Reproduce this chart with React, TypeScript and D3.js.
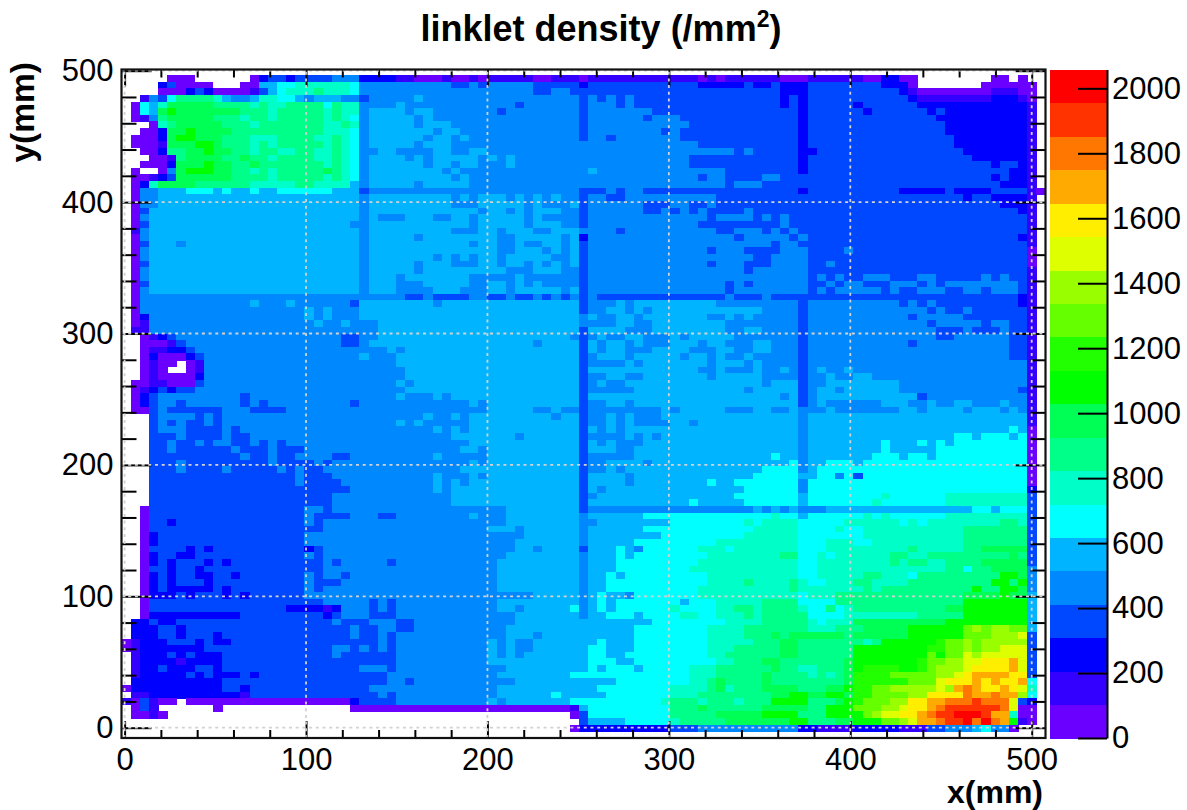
import * as d3 from 'd3';
import { useEffect, useRef } from 'react';

const WIDTH = 1187;
const HEIGHT = 810;
const FRAME = { LEFT: 121.5, RIGHT: 1045.5, TOP: 69.5, BOTTOM: 738 };
const FONT = '"Liberation Sans", Arial, sans-serif';

const Z_MAX = 2058;
const Z_TICKS = d3.range(0, 2001, 200);
const X_MAJOR = [0, 100, 200, 300, 400, 500];
const Y_MAJOR = [0, 100, 200, 300, 400, 500];
const MINOR = d3.range(0, 501, 20).filter((d) => d % 100 !== 0);

// bottom band first
const BAND_COLORS = [
  '#6a00ff', '#3300ff', '#0000ff', '#0048ff', '#0088ff',
  '#00b4ff', '#00ffff', '#00ffc8', '#00ff88', '#00ff55',
  '#00ff00', '#22ff00', '#66ff00', '#99ff00', '#ddff00',
  '#ffee00', '#ffaa00', '#ff7700', '#ff3300', '#ff0000',
];

// density, top row first, one character per 5 mm bin:
// band index in base 36 (0 = 0-100 /mm2 ... j = top band), '.' = no entries.
// columns are grouped by ten
const DENSITY_ROWS = [
  '',
  '.....000.. ....023323 3334442222 1100010010 1111100111 0111111111 1110101111 1100011111 1002200... .....00.0.',
  '....230000 ...0055667 7777764444 4444443343 4444433333 2333333333 3332222232 2322233333 3332220... ....000000',
  '....000232 0000135677 7877764444 4444444444 4444433443 3333333333 3333333333 3322233333 3333321000 0000011100',
  '..14368888 7544577665 4555443444 4454444444 4444444444 3434343333 3333333333 3323233333 3333332111 1111122210',
  '.065799999 8888787788 8868774444 5444444444 4443444444 3444343333 3333333333 3323233333 2333333222 2222222221',
  '.0659a9999 9998887888 8878774555 5455444444 4344444444 3444444433 3333333333 3333233333 3233333323 2222222221',
  '.014899999 8887887888 8878764555 5545444444 4444444444 3444444344 4333333333 3333233333 3333333332 2222222221',
  '...0789999 9888788888 8877874555 5545554444 4444444444 3444444444 4433333333 3333233333 3333333333 2222222221',
  '..00299a99 9988888888 8877764555 5555455444 4444444444 3444444443 4333333333 3333233333 3333333333 2222222221',
  '.00029aa99 9888777888 8778764555 5554554544 4444444444 3443444444 4333333333 3333233333 3333333333 3222222221',
  '.0001999aa 9888787888 8878764555 5545554444 4444444444 4444444444 4443333333 3333233333 3333333333 3222222221',
  '..0028899a 9988788778 8778764455 4444554455 4444444444 4444444444 4444444343 3333223333 3333333333 3322222221',
  '...0018999 9889887888 8778764555 5454555554 5454444444 4444444444 4433333333 3333233333 3333333333 3332222221',
  '..0002999a 9988988888 8878764555 5554554554 4454444444 4444444444 4433333333 3333233333 3333333333 3333323321',
  '.0..049aaa 9988787888 8898764555 5555545444 4444444444 4544444444 4444443333 3333233333 3333333333 3333333221',
  '.001239999 9988887888 8878764555 5555554544 4444444444 4444444444 4443443333 4433333333 3333333333 3333323221',
  '.027999988 8888777778 8777754555 5545555544 4444444444 4444444444 4444443444 3333333333 3333333333 3333332221',
  '.044555666 5655655666 6665553444 4444444444 4444444444 3334344333 3333333333 3333233333 3333322222 3222233331 0',
  '.044555555 5555555555 5555554555 5555554545 5545454544 3443344444 4444433333 3333333333 3333333333 3323322221',
  '.044555555 5555555555 5555554555 5555554445 5555454445 3444444333 4433433333 3333333333 3333333333 3333332221',
  '.035555555 5555555555 5555554555 5555555554 5545455544 3444444334 3434333343 3333333333 3333333333 3333333321',
  '.045555555 5555555555 5555554544 4555445545 5555454444 3444444444 4444344443 4343333333 3333333333 3333333331',
  '.035555555 5555555555 5555544555 5555555545 5555455544 3444444444 4443333333 3343333333 3333333333 3333333331',
  '.145555555 5555555555 5555554555 5555554445 5455544555 4444344444 4444433444 3434333333 3333333333 3333333331',
  '.045555555 5555555555 5555554555 5545555555 5445555545 2444444444 4444444344 4443433333 3333333333 3333333321',
  '.035554555 5555555555 5555554555 5555555545 5445445545 3444444444 4444444444 4344333333 3333333333 3333333331',
  '.045555555 5555555555 5555554555 5555555555 5445554545 3444444444 4444344433 3344433334 3333333333 3333333330',
  '.045555555 5555555555 5555554555 5555454545 5455555445 3444444444 4444444443 3444433333 3333333333 3333333330',
  '.035555555 5555555555 5555554555 5545554445 5455454545 3444444444 4444344433 3444433433 3333333333 3333333330',
  '.045555555 5555555555 5555554555 5545555555 5544455544 3444444444 4444444434 4444433333 3333333333 3333333331',
  '.045555555 5555555555 5555554555 4555555544 4445444444 3444444444 4444444444 4444434343 3444333443 3333434331',
  '.035555555 5555555555 5555554555 4445555544 5545454444 3444444444 4444443434 4444433434 4333444343 4444444431',
  '.045555555 5555555555 5555554555 4444555444 5545555545 3444444444 4444443444 4444434344 4443433444 3344344431',
  '.044444444 4444444444 4444444444 4334333344 3343343434 3433333333 3333334333 4333333333 3333333333 3333333321',
  '.044444444 4444544454 4444435555 5555455555 5555555555 3444545555 5555544444 4444344444 4444434343 3333333321',
  '.044444444 4444444444 5454445555 5555555555 5555555555 3445545455 5555555555 4444344444 4444444434 3343333331',
  '.024444444 4444444444 5454445555 5555555555 5555555555 4544554555 5555445454 4444344444 4444443444 4433333331',
  '.014444444 4444444444 4544544455 5555555555 5555555555 4444554455 5555554444 4444344444 4444444434 4444344331',
  '.114444444 4444444444 4444444455 5555555555 5555555555 3555544455 5555554455 4444344444 4444444443 3343334331',
  '..01234444 4444444444 4444334455 5555555555 5555555554 3454455444 5455555444 4444344444 4444444443 3444444331',
  '..00013444 4444444444 4444334555 5555555555 5555545555 3545545444 5554554445 5444344444 4444443444 4444444331',
  '..01122344 4444444444 4444444445 4555555555 5555555555 3545544455 5544455445 5444344444 4444444444 4444444331',
  '..02000234 4444444444 4444445444 5555555555 5555555555 3455545555 5455454454 4444344444 4444444444 4444444331',
  '..0100.014 4444444444 4444444444 5555555555 5555555555 3444454555 5555455545 4444344444 4444444444 4444444441',
  '..010..014 4444444444 4444444444 4555555555 5555555555 3555555555 5554454445 4454345445 4444444444 4444444441',
  '..01000024 4444444444 4444444444 4555555555 5555555555 3445544555 5555455555 4444344544 5544444444 4444444441',
  '.001100034 4444444444 4444444444 5455555555 5555555555 3454455555 5555555555 4555344555 5555544444 4444444441',
  '.012323344 4444444444 4444444444 4555555555 5555555555 3444445555 5555555545 5555345545 5555544444 4444444431',
  '.023444444 4443444444 4444444444 5444545555 5555555555 3555555555 5555555555 5545345555 5555555344 4444444441',
  '.023443444 4443434444 4444434444 4444444454 5555555555 3445545555 5555555555 5555345444 4445554454 4554445441',
  '.003433333 3444333344 4444444444 4444444444 5555544544 3444444445 4555554445 5445444544 4444455455 5545554541',
  '...3444434 3444444444 4444444444 4445445455 5555555455 3445454445 5555555555 5555455555 5555555555 5555555551',
  '...3434334 3444444444 4444444444 5454444455 5555555555 3445454444 5545555555 5555455555 5555555555 5555555551',
  '...3444333 3434444444 4444444444 4444545455 5555555555 3545455555 5555555555 5555455555 5555555555 5555555650',
  '...3334333 3433444444 4444444444 4444445555 5554555555 3444454545 5555555555 5555455555 5555555555 5665666560',
  '...3343343 4433434344 4444444444 4444444455 5555555555 3545444555 5555555555 5555455555 5556555656 5666666660',
  '...3343333 3343334333 4444444444 4444444554 5555555555 3555445555 5555555555 5555455555 5556555556 6666666660',
  '...3333333 3334334334 4443344444 4444544444 5555555555 3444445555 5555555555 5655455555 5566656656 6666666660',
  '...3334333 3333334333 3434444444 4444444454 5555555555 3445555455 5555555555 5556455666 5666666666 6666666660',
  '...3334333 3433333434 3344444444 4444444555 5555555555 3445455555 5555555555 6666456666 6666666666 6666666660',
  '...3333333 3333333334 3334444444 4444544454 5555555555 3555545555 5555555556 6666556646 3666666666 6666666660',
  '...3333333 3333333334 3333444444 4444545455 5555555555 3555545555 5555655666 6666466666 6666666666 6666666660',
  '...3333333 3333333333 3333344444 4444545555 5555555555 3545555555 5555555566 6666466666 6666666666 6666666662',
  '...3333333 3333333333 3334444444 4444445555 5555555555 3455555555 5555555666 6666566666 6667666666 7777777773',
  '...3333333 3333333333 3334444444 4444445555 5555555555 3555555555 5565555566 6666566666 6676666666 7777777773',
  '..03333333 3333333333 4434444444 4444444444 4455555555 3444444444 4444444445 4545444555 5555555555 5556656663',
  '..03333333 3333333333 4333344433 4444444454 4455555555 4555555666 6666666666 6766566666 6767666666 7777777773',
  '..03323333 3333333333 4344444444 4444444444 4455555555 4455555555 6666666676 7777666667 7777767677 7777778873',
  '..03333333 3333333333 3344444444 4444444444 5554555555 4555555666 6666666667 7777666676 6777777777 7788888883',
  '..02333333 3333333333 4444444444 4444444444 4444555555 4555555556 6666666677 7777666666 6777777777 7788888883',
  '..02333333 3333333333 4444444444 4444444444 4445555555 4555556666 6666677777 7777666777 6677777777 7788888883',
  '..03333232 3333333333 2344444444 4444444444 4445545555 3555654666 6667776777 7777666777 7777778777 7788999993',
  '..02332233 3333333333 4344444444 4444444444 4455555555 4555656666 6666777777 7788667677 7777887788 8888888983',
  '..02323332 3233333333 3343444443 4444444444 4555555555 4555666666 6667777777 7777667777 7777878877 8888999993',
  '..03323323 3333333333 3344444444 4444444444 4555555555 4555666666 6677777777 7777667777 7777777777 8868899994',
  '..02323322 3323333333 4344344444 4444444444 4555555555 4556566666 6666777777 7777667777 7887776888 888888aa94',
  '..02323332 3333333333 4333444444 4444444444 4555555555 4556666666 6666777787 7778766777 8877778888 88888aa8a4',
  '..02322222 3233333333 4344444444 4444444444 4555555555 4556666666 6667777777 7778777777 7878888888 888a88aa94',
  '..02223233 3232333333 4444444444 4444444444 4444455555 4565546666 6667777777 7777677788 8888888888 889999a995',
  '..03333333 3333333333 3344444343 4444444444 4555555555 4565666666 6566677777 8888666688 8888888888 88aaaaaaa5',
  '..03333333 3333333322 2212444343 4444444444 4554555556 4565666666 7666677887 8888766867 8888888888 99aaaaaaa5',
  '..02222222 2223333333 3323444333 4444444444 4445555555 4556665666 6776677787 8888866667 7777777888 88aaaaaaa5',
  '.223223333 3333333333 3334333444 3344444444 4445555555 5555555566 6666667777 8888876777 9999999999 aaaaaaaaa5',
  '.222332333 3333333333 3333343344 3344444444 4455555555 5555556666 6666777788 8888877788 899999aaaa aacdcddcc5',
  '.222332333 2333333333 3333343343 4444444444 4455545555 5555556666 6666777788 8989999998 999999aaaa aacccddde3',
  '0122233323 2233333333 3333333343 4444444444 5454455555 5565556666 6666777778 8899888888 878aaaaaab ccdcddddd3',
  '0122222223 3333333333 3334434343 4444444444 5454455555 5665556666 6666777888 8899888888 aaaaaaaabb ccdcddeee3',
  '.122232322 2333333333 3334333333 4444444444 5454555555 5665566666 6666778888 8899888888 aaaaaaaaca ccedeeeee3',
  '.122221222 2333333333 3333333333 4444444444 5555555555 5666556666 6666677888 9988888889 aaaaaaabcc ddeefffge3',
  '.122322233 2333333333 3333334443 4444444444 4455555555 5656665666 6677788888 8988778889 abbbbaabcd ddeffffge3',
  '.122222323 2223233333 3333333334 4444444444 4555555556 6666666666 6677788888 9888878789 bbbbcccccd defggggff3',
  '.222222222 2333333333 3333333334 4344444444 4445555555 5555666666 6677898888 9888888889 bbbbbbccce fffgfgffg6',
  '0222222222 2332333333 3333333444 4444444444 4555555555 5566666666 7777897888 999988899a bbccddddde dghgffgfe7',
  '.112222222 2221333333 3333333343 4444444444 4555555655 5556666666 7778888888 899aa99aa9 bbccccddff ffhgghggd6',
  '103100.000 0000000000 0000023333 4444444444 5455555556 6666666667 8887888788 8aaaa8889a bcccddffgg hhhihhhe32',
  '.031...... 0......... .....00000 0000000000 0000000001 5666666666 8889888888 9999988aaa cccddeffgh iiiiiihe00',
  '.0010..... .......... .......... .......... .........0 3666666666 8888899999 aaaa888aaa acdeeffghi ijjjigg700',
  '.......... .......... .......... .......... .......... 3555566666 7888889999 999aa88899 aaaccdeggh iijhjhga10',
  '.......... .......... .......... .......... .........0 2222222222 3334444444 4444221111 2222211133 44456440..',
  '',
];

const cells = DENSITY_ROWS.flatMap((row, r) =>
  row
    .split(' ')
    .flatMap((group) => group.padEnd(10, '.').slice(0, 10).split(''))
    .map((ch, c) => ({ r, c, band: ch === '.' ? -1 : parseInt(ch, 36) }))
    .filter((d) => d.band >= 0)
);

const App = () => {
  const svgRef = useRef<SVGSVGElement>(null);

  useEffect(() => {
    const svg = d3.select(svgRef.current);
    svg.selectAll('*').remove();

    const x = d3.scaleLinear().domain([0, 500]).range([124.6, 1031.7]);
    const y = d3.scaleLinear().domain([0, 500]).range([727.7, 70.7]);
    const z = d3.scaleLinear().domain([0, Z_MAX]).range([FRAME.BOTTOM, FRAME.TOP]);
    const color = d3.scaleQuantize<string>().domain([0, Z_MAX]).range(BAND_COLORS);
    const bandWidth = Z_MAX / BAND_COLORS.length;

    const col = d3.scaleBand<number>().domain(d3.range(101)).range([FRAME.LEFT, FRAME.RIGHT]);
    const row = d3.scaleBand<number>().domain(d3.range(101)).range([68.4, FRAME.BOTTOM]);

    svg
      .append('g')
      .attr('shape-rendering', 'crispEdges')
      .selectAll('rect')
      .data(cells)
      .join('rect')
      .attr('x', (d) => col(d.c))
      .attr('y', (d) => row(d.r))
      .attr('width', col.bandwidth() + 0.5)
      .attr('height', row.bandwidth() + 0.5)
      .attr('fill', (d) => color((d.band + 0.5) * bandWidth));

    const styleAxis = (g, labels = true) => {
      g.select('.domain').remove();
      g.selectAll('line').attr('stroke', '#000').attr('stroke-width', 2);
      g.attr('font-family', FONT).attr('font-size', 31);
      g.selectAll('text').attr('fill', '#000');
      if (!labels) g.selectAll('text').remove();
    };

    const addAxis = (axis, transform, labels = false) =>
      svg
        .append('g')
        .attr('transform', transform)
        .call(axis)
        .call((g) => styleAxis(g, labels));

    // major and minor ticks, inside the frame on all four sides
    addAxis(
      d3.axisBottom(x).tickValues(X_MAJOR).tickSize(-17).tickPadding(10),
      `translate(0,${FRAME.BOTTOM})`,
      true
    );
    addAxis(d3.axisBottom(x).tickValues(MINOR).tickSize(-8), `translate(0,${FRAME.BOTTOM})`);
    addAxis(d3.axisTop(x).tickValues(X_MAJOR).tickSize(-17), `translate(0,${FRAME.TOP})`);
    addAxis(d3.axisTop(x).tickValues(MINOR).tickSize(-8), `translate(0,${FRAME.TOP})`);
    addAxis(
      d3.axisLeft(y).tickValues(Y_MAJOR).tickSize(-30).tickPadding(8),
      `translate(${FRAME.LEFT},0)`,
      true
    );
    addAxis(d3.axisLeft(y).tickValues(MINOR).tickSize(-15), `translate(${FRAME.LEFT},0)`);
    addAxis(d3.axisRight(y).tickValues(Y_MAJOR).tickSize(-30), `translate(${FRAME.RIGHT},0)`);
    addAxis(d3.axisRight(y).tickValues(MINOR).tickSize(-15), `translate(${FRAME.RIGHT},0)`);

    // dotted grid goes over the ticks
    const grid = svg
      .append('g')
      .attr('stroke', '#d2d2d2')
      .attr('stroke-width', 1.8)
      .attr('stroke-dasharray', '3 3.7');
    grid
      .selectAll('line.gx')
      .data(X_MAJOR)
      .join('line')
      .attr('x1', (d) => x(d))
      .attr('x2', (d) => x(d))
      .attr('y1', FRAME.BOTTOM)
      .attr('y2', FRAME.TOP);
    grid
      .selectAll('line.gy')
      .data(Y_MAJOR)
      .join('line')
      .attr('class', 'gy')
      .attr('x1', FRAME.LEFT)
      .attr('x2', FRAME.RIGHT)
      .attr('y1', (d) => y(d))
      .attr('y2', (d) => y(d));

    svg
      .append('rect')
      .attr('x', FRAME.LEFT)
      .attr('y', FRAME.TOP)
      .attr('width', FRAME.RIGHT - FRAME.LEFT)
      .attr('height', FRAME.BOTTOM - FRAME.TOP)
      .attr('fill', 'none')
      .attr('stroke', '#111')
      .attr('stroke-width', 2.2);

    // palette
    svg
      .append('g')
      .attr('shape-rendering', 'crispEdges')
      .selectAll('rect')
      .data(BAND_COLORS)
      .join('rect')
      .attr('x', 1050)
      .attr('width', 57)
      .attr('y', (d, i) => z((i + 1) * bandWidth))
      .attr('height', (d, i) => z(i * bandWidth) - z((i + 1) * bandWidth) + 0.5)
      .attr('fill', (d) => d);

    const zAxis = svg
      .append('g')
      .attr('transform', 'translate(1107,0)')
      .call(
        d3
          .axisRight(z)
          .tickValues(Z_TICKS)
          .tickFormat(d3.format('d'))
          .tickSize(-29)
          .tickSizeOuter(0)
          .tickPadding(5)
      );
    zAxis.select('.domain').attr('stroke', '#000').attr('stroke-width', 2);
    zAxis.selectAll('line').attr('stroke', '#000').attr('stroke-width', 2);
    zAxis.attr('font-family', FONT).attr('font-size', 31);
    zAxis.selectAll('text').attr('fill', '#000');

    // titles
    const title = svg
      .append('text')
      .attr('x', 601)
      .attr('y', 41)
      .attr('text-anchor', 'middle')
      .attr('font-family', FONT)
      .attr('font-weight', 'bold')
      .attr('font-size', 36);
    title.append('tspan').text('linklet density (/mm');
    title.append('tspan').attr('font-size', 23).attr('dy', -14).text('2');
    title.append('tspan').attr('dy', 14).text(')');

    svg
      .append('text')
      .attr('x', 1043)
      .attr('y', 803)
      .attr('text-anchor', 'end')
      .attr('font-family', FONT)
      .attr('font-weight', 'bold')
      .attr('font-size', 32)
      .text('x(mm)');

    svg
      .append('text')
      .attr('transform', 'translate(34,62) rotate(-90)')
      .attr('text-anchor', 'end')
      .attr('font-family', FONT)
      .attr('font-weight', 'bold')
      .attr('font-size', 33.5)
      .text('y(mm)');
  }, []);

  return (
    <svg
      ref={svgRef}
      width={WIDTH}
      height={HEIGHT}
      style={{ position: 'absolute', left: 0, top: 0, background: '#fff' }}
    />
  );
};

export default App;
